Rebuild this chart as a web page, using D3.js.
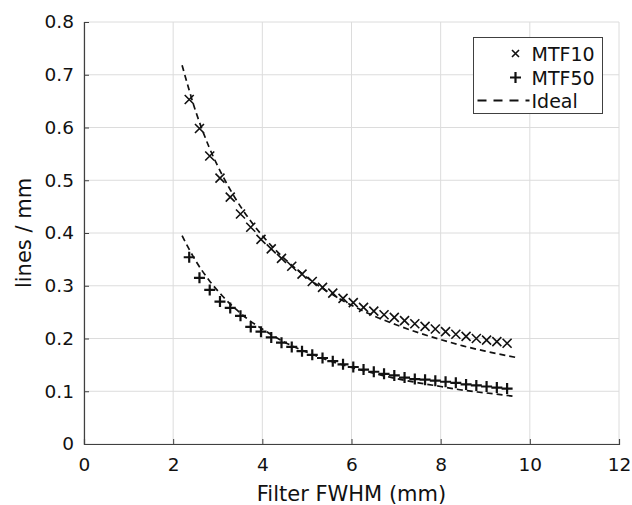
<!DOCTYPE html>
<html>
<head>
<meta charset="utf-8">
<script src="https://cdn.jsdelivr.net/npm/d3@7"></script>
<style>
  body { margin: 0; background: #fff; }
  text { font-family: "DejaVu Sans", sans-serif; fill: #111; }
</style>
</head>
<body>
<script>
/* ------------------------------- Data ------------------------------- */
const fwhm = [2.36, 2.59, 2.82, 3.05, 3.28, 3.51, 3.74, 3.97, 4.2, 4.43, 4.66, 4.89,
  5.12, 5.35, 5.58, 5.81, 6.04, 6.27, 6.5, 6.73, 6.96, 7.19, 7.42, 7.65,
  7.88, 8.11, 8.34, 8.57, 8.8, 9.03, 9.26, 9.49];
const mtf10 = [0.653, 0.598, 0.546, 0.504, 0.468, 0.436, 0.411, 0.388, 0.37, 0.352, 0.337, 0.322,
  0.308, 0.297, 0.286, 0.276, 0.268, 0.259, 0.252, 0.245, 0.24, 0.234, 0.228, 0.223,
  0.218, 0.213, 0.208, 0.204, 0.2, 0.197, 0.194, 0.191];
const mtf50 = [0.354, 0.315, 0.292, 0.27, 0.258, 0.243, 0.222, 0.213, 0.202, 0.192, 0.184, 0.176,
  0.169, 0.163, 0.157, 0.151, 0.146, 0.141, 0.137, 0.133, 0.13, 0.126, 0.123, 0.122,
  0.12, 0.118, 0.116, 0.113, 0.111, 0.109, 0.107, 0.105];

const idealX = [2.2, 2.5, 2.8, 3.1, 3.4, 3.7, 4, 4.5, 5, 5.5, 6, 6.5, 7, 7.5, 8, 8.5, 9, 9.7];
const ideal10 = [0.718, 0.632, 0.564, 0.51, 0.465, 0.427, 0.395, 0.351, 0.316, 0.287, 0.263, 0.243,
  0.226, 0.211, 0.198, 0.186, 0.176, 0.164];
const ideal50 = [0.395, 0.348, 0.311, 0.281, 0.256, 0.235, 0.218, 0.193, 0.174, 0.158, 0.145, 0.134,
  0.124, 0.116, 0.109, 0.102, 0.097, 0.09];

const xTicks = [0, 2, 4, 6, 8, 10, 12];
const yTicks = [0, 0.1, 0.2, 0.3, 0.4, 0.5, 0.6, 0.7, 0.8];
const legendNames = ["MTF10", "MTF50", "Ideal"];

/* ------------------------------ Layout ------------------------------ */
const width = 632, height = 505;
const margin = { top: 22, right: 13, bottom: 61, left: 84 };
const innerW = width - margin.left - margin.right;
const innerH = height - margin.top - margin.bottom;

const svg = d3.select("body").append("svg").attr("width", width).attr("height", height);
const g = svg.append("g").attr("transform", `translate(${margin.left},${margin.top})`);

const x = d3.scaleLinear().domain([0, 12]).range([0, innerW]);
const y = d3.scaleLinear().domain([0, 0.8]).range([innerH, 0]);

// grid
g.append("g").selectAll("line").data(xTicks).enter().append("line")
  .attr("x1", d => x(d)).attr("x2", d => x(d)).attr("y1", 0).attr("y2", innerH)
  .attr("stroke", "#dcdcdc").attr("stroke-width", 1);
g.append("g").selectAll("line").data(yTicks).enter().append("line")
  .attr("y1", d => y(d)).attr("y2", d => y(d)).attr("x1", 0).attr("x2", innerW)
  .attr("stroke", "#dcdcdc").attr("stroke-width", 1);

// axes (ticks pointing inward)
const xAxis = g.append("g").attr("transform", `translate(0,${innerH})`)
  .call(d3.axisBottom(x).tickValues(xTicks).tickSize(-5).tickPadding(14).tickFormat(d3.format("d")));
const yAxis = g.append("g")
  .call(d3.axisLeft(y).tickValues(yTicks).tickSize(-5).tickPadding(10)
    .tickFormat(d => d === 0 ? "0" : d3.format(".1f")(d)));
[xAxis, yAxis].forEach(a => {
  a.select(".domain").attr("stroke", "#404040").attr("stroke-width", 1.2);
  a.selectAll(".tick line").attr("stroke", "#404040");
  a.selectAll("text").attr("font-size", "18.5px").attr("fill", "#111")
    .attr("font-family", "DejaVu Sans, sans-serif");
});

// axis labels
svg.append("text").attr("x", margin.left + innerW / 2).attr("y", 501)
  .attr("text-anchor", "middle").attr("font-size", "21px").text("Filter FWHM (mm)");
svg.append("text").attr("transform", `translate(31,${margin.top + innerH / 2}) rotate(-90)`)
  .attr("text-anchor", "middle").attr("font-size", "21px").text("lines / mm");

/* ------------------------------ Ideal ------------------------------- */
const line = d3.line().x(d => x(d[0])).y(d => y(d[1])).curve(d3.curveMonotoneX);
[ideal10, ideal50].forEach(vals => {
  g.append("path").datum(idealX.map((v, i) => [v, vals[i]]))
    .attr("d", line).attr("fill", "none").attr("stroke", "#111")
    .attr("stroke-width", 1.7).attr("stroke-dasharray", "6,4");
});

/* ------------------------------ Markers ----------------------------- */
function cross(sel, r) {
  sel.append("path").attr("d", `M${-r},${-r}L${r},${r}M${-r},${r}L${r},${-r}`)
    .attr("stroke", "#111").attr("stroke-width", 1.6).attr("fill", "none");
}
function plus(sel, r) {
  sel.append("path").attr("d", `M${-r},0L${r},0M0,${-r}L0,${r}`)
    .attr("stroke", "#111").attr("stroke-width", 2.2).attr("fill", "none");
}
g.append("g").selectAll("g").data(fwhm.map((v, i) => [v, mtf10[i]])).enter().append("g")
  .attr("transform", d => `translate(${x(d[0])},${y(d[1])})`)
  .each(function() { cross(d3.select(this), 4.5); });
g.append("g").selectAll("g").data(fwhm.map((v, i) => [v, mtf50[i]])).enter().append("g")
  .attr("transform", d => `translate(${x(d[0])},${y(d[1])})`)
  .each(function() { plus(d3.select(this), 5.5); });

/* ------------------------------ Legend ------------------------------ */
const lg = svg.append("g").attr("transform", "translate(473.5,37.5)");
lg.append("rect").attr("width", 129).attr("height", 76)
  .attr("fill", "#fff").attr("stroke", "#404040").attr("stroke-width", 1);
const rowY = [16, 40, 63];
lg.selectAll("text").data(legendNames).enter().append("text")
  .attr("x", 58).attr("y", (d, i) => rowY[i] + 7)
  .attr("font-size", "19px").text(d => d);
cross(lg.append("g").attr("transform", `translate(${42},${rowY[0]})`), 3.5);
plus(lg.append("g").attr("transform", `translate(${42},${rowY[1]})`), 5.5);
lg.append("line").attr("x1", 4).attr("x2", 56).attr("y1", rowY[2]).attr("y2", rowY[2])
  .attr("stroke", "#111").attr("stroke-width", 2).attr("stroke-dasharray", "9,7");
</script>
</body>
</html>
